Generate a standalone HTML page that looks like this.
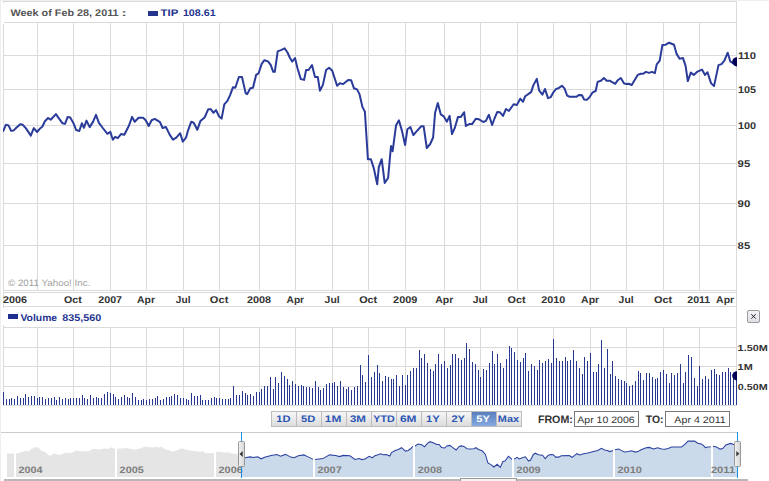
<!DOCTYPE html><html><head><meta charset="utf-8"><style>
html,body{margin:0;padding:0;background:#fff;overflow:hidden;}
svg{display:block;}
text{font-family:"Liberation Sans",sans-serif;text-rendering:geometricPrecision;}
.b{font-weight:bold;}
</style></head><body>
<svg width="769" height="481" viewBox="0 0 769 481">
<defs>
<clipPath id="pc"><rect x="3" y="22" width="734" height="268"/></clipPath>
<clipPath id="vc"><rect x="3" y="327" width="734" height="78"/></clipPath>
<linearGradient id="btn" x1="0" y1="0" x2="0" y2="1"><stop offset="0" stop-color="#f7f7f7"/><stop offset="1" stop-color="#dcdcdc"/></linearGradient>
<linearGradient id="btnsel" x1="0" y1="0" x2="0" y2="1"><stop offset="0" stop-color="#5a7fbf"/><stop offset="1" stop-color="#84a8de"/></linearGradient>
<linearGradient id="hdl" x1="0" y1="0" x2="1" y2="0"><stop offset="0" stop-color="#f4f4f4"/><stop offset="1" stop-color="#d4d4d4"/></linearGradient>
<linearGradient id="xb" x1="0" y1="0" x2="0" y2="1"><stop offset="0" stop-color="#f4f4f8"/><stop offset="1" stop-color="#dedee6"/></linearGradient>
</defs>
<rect x="0" y="0" width="769" height="481" fill="#fff"/>
<rect x="0" y="0" width="769" height="1" fill="#efefef"/>
<rect x="0" y="0" width="1" height="481" fill="#efefef"/>
<g shape-rendering="crispEdges">
<rect x="3" y="1" width="734" height="1" fill="#dadada"/>
<rect x="3" y="1" width="1" height="2" fill="#dadada"/>
<rect x="736" y="1" width="1" height="405" fill="#dadada"/>
<rect x="4" y="22" width="733" height="1" fill="#dadada"/>
<rect x="3" y="24" width="1" height="267" fill="#dadada"/>
<rect x="3" y="290" width="734" height="1" fill="#dadada"/>
<rect x="37" y="23" width="1" height="267" fill="#dadada"/>
<rect x="73" y="23" width="1" height="267" fill="#dadada"/>
<rect x="110" y="23" width="1" height="267" fill="#dadada"/>
<rect x="146" y="23" width="1" height="267" fill="#dadada"/>
<rect x="183" y="23" width="1" height="267" fill="#dadada"/>
<rect x="219" y="23" width="1" height="267" fill="#dadada"/>
<rect x="259" y="23" width="1" height="267" fill="#dadada"/>
<rect x="295" y="23" width="1" height="267" fill="#dadada"/>
<rect x="332" y="23" width="1" height="267" fill="#dadada"/>
<rect x="368" y="23" width="1" height="267" fill="#dadada"/>
<rect x="405" y="23" width="1" height="267" fill="#dadada"/>
<rect x="444" y="23" width="1" height="267" fill="#dadada"/>
<rect x="480" y="23" width="1" height="267" fill="#dadada"/>
<rect x="517" y="23" width="1" height="267" fill="#dadada"/>
<rect x="553" y="23" width="1" height="267" fill="#dadada"/>
<rect x="590" y="23" width="1" height="267" fill="#dadada"/>
<rect x="626" y="23" width="1" height="267" fill="#dadada"/>
<rect x="663" y="23" width="1" height="267" fill="#dadada"/>
<rect x="699" y="23" width="1" height="267" fill="#dadada"/>
<rect x="4" y="55" width="732" height="1" fill="#dadada"/>
<rect x="4" y="89" width="732" height="1" fill="#dadada"/>
<rect x="4" y="125" width="732" height="1" fill="#dadada"/>
<rect x="4" y="163" width="732" height="1" fill="#dadada"/>
<rect x="4" y="203" width="732" height="1" fill="#dadada"/>
<rect x="4" y="245" width="732" height="1" fill="#dadada"/>
<rect x="3" y="292" width="734" height="1" fill="#dadada"/>
<rect x="3" y="306" width="734" height="1" fill="#dadada"/>
<rect x="3" y="292" width="1" height="16" fill="#dadada"/>
<rect x="4" y="327" width="733" height="1" fill="#dadada"/>
<rect x="3" y="325" width="1" height="81" fill="#dadada"/>
<rect x="3" y="405" width="734" height="1" fill="#dadada"/>
<rect x="37" y="328" width="1" height="77" fill="#dadada"/>
<rect x="73" y="328" width="1" height="77" fill="#dadada"/>
<rect x="110" y="328" width="1" height="77" fill="#dadada"/>
<rect x="146" y="328" width="1" height="77" fill="#dadada"/>
<rect x="183" y="328" width="1" height="77" fill="#dadada"/>
<rect x="219" y="328" width="1" height="77" fill="#dadada"/>
<rect x="259" y="328" width="1" height="77" fill="#dadada"/>
<rect x="295" y="328" width="1" height="77" fill="#dadada"/>
<rect x="332" y="328" width="1" height="77" fill="#dadada"/>
<rect x="368" y="328" width="1" height="77" fill="#dadada"/>
<rect x="405" y="328" width="1" height="77" fill="#dadada"/>
<rect x="444" y="328" width="1" height="77" fill="#dadada"/>
<rect x="480" y="328" width="1" height="77" fill="#dadada"/>
<rect x="517" y="328" width="1" height="77" fill="#dadada"/>
<rect x="553" y="328" width="1" height="77" fill="#dadada"/>
<rect x="590" y="328" width="1" height="77" fill="#dadada"/>
<rect x="626" y="328" width="1" height="77" fill="#dadada"/>
<rect x="663" y="328" width="1" height="77" fill="#dadada"/>
<rect x="699" y="328" width="1" height="77" fill="#dadada"/>
<rect x="4" y="347" width="732" height="1" fill="#dadada"/>
<rect x="4" y="366" width="732" height="1" fill="#dadada"/>
<rect x="4" y="386" width="732" height="1" fill="#dadada"/>
</g>
<g clip-path="url(#pc)">
<polyline points="3,131.7 5.9,124.8 8.5,125.4 11.1,130.7 13.7,130.4 16.3,127.8 20.2,124.2 22.8,124.8 26,128.4 30.8,135.6 33.8,128.1 37.1,132 39.7,128.8 42.3,126.8 44.9,121.3 48.1,118 50.7,119.7 55.9,114.1 60.5,120.6 62.4,123.2 65,123.9 67.6,117.1 70.2,117.6 73.5,123.2 76.1,130 79.3,131 81.9,123.2 83.9,127.8 86.5,120.6 89.7,127.1 93,121.9 96,114.8 98.9,122.8 102.8,128 107.4,133.8 110.3,131.9 112.9,139.7 115.2,136.8 117.8,138.1 121,134.1 124.3,134.8 128.8,126 132.1,116.9 134.7,121.8 138.6,117.8 143.1,117.8 145.7,120.2 148.7,126 151.6,120.2 154.8,118.9 160,122.1 162.6,128 165.9,127 169.8,134.9 173,139.7 176.3,137.7 180.2,133.2 182.8,141.6 186,137.7 188,130.6 191.2,121.8 193.7,122.7 197.3,129.8 200.4,121.1 204.6,117.5 208.3,109.2 210.8,109.2 213.5,112.8 216,110.1 219.1,116.5 221.6,118.6 224.3,104.4 227.4,100.9 230.1,95.1 233,87.2 235.3,87.8 238.9,77 242,77 245.7,93.4 247.2,94.1 250.3,88.2 253,87.8 256.1,74.9 258.6,73.3 261.7,63.9 264.4,60.2 268,61.4 270.7,64.9 273.2,71.8 274.8,71.8 277.7,51.4 281.5,49.8 284.6,48.3 287.5,52.5 290,58 292.2,61.6 295,58 297.5,68.3 300.8,79.1 304.1,79.9 306.1,70 308.6,70 312,65 315,76.9 317.8,76.9 319.9,90.7 322.9,84.9 326.1,70 329.1,67.8 332.1,70.4 337.1,85.8 339.9,83.3 343.2,84.1 348.2,79.9 351.2,80.3 354,88.3 357,89.4 359.5,94.1 360.6,99 362.4,106.9 364.9,111.8 367.9,159.2 370.9,159.2 373.8,168.1 377.2,184.3 378.8,167.1 381.7,159.2 384.7,182.9 388.1,178 391,146 392.6,151.3 396,125.6 398.9,120.3 401.9,130.6 405.1,145 407.4,129.2 410.4,127 413.4,135.1 416.3,131.6 421.3,126.2 423.6,126.2 426.8,148 430.2,144 433.1,137.5 435.1,112.8 437.8,103.1 440.8,114.4 443.7,116.3 446.9,121.7 449.6,115.9 452,134 454.7,128.2 458,116.9 460.9,116.9 464.1,112.2 465.9,126 469.2,124.1 472.1,124.1 475.8,118.8 478.7,119.2 483.3,122 485.9,120.9 488.9,114.8 492.1,125 494.7,118 497.3,111.9 499.8,112.2 503,115.9 506,109 508.9,111 513.6,104.2 517,104.9 520.2,98.7 523.1,101.7 525.2,96.2 531.1,92.1 533.3,85.4 536.8,78.9 539.1,90.3 542.4,94.6 545,89 548,98.1 550.8,97.1 553.4,92.3 556,89 558.6,88.1 561.9,85.8 564.5,88.4 567.1,95.5 569.7,96.8 576.2,96.8 579.2,94.9 582,95.3 584,99.4 587.2,99.7 589.8,96.8 592.7,92.3 595.7,91 597.6,81.9 600.9,80.8 603.9,78 606.7,80.8 610,80.8 615.2,83.8 617.8,80.2 620.8,78 623.9,83.2 626.2,84.1 628.7,83.8 631.7,85 634.7,80.1 637.7,74.9 640.7,73.8 643.2,73.8 645.9,71.9 648.9,72.9 651.9,71.9 654.9,73.1 656.7,64.4 659.7,60.7 662.4,45 665.7,44.7 669.1,42.7 674,44.7 676.6,53.9 679.6,58.7 683,58.1 685.6,65.9 687.8,81.1 690.8,72.6 693.8,74.9 697.5,71.6 702,69.6 705,74.9 707.5,72.2 711,83.1 714,86.1 718.5,65.1 721.5,64.1 724.4,60.7 727.7,52.7 730.4,61.7 734.2,63.6 737,63.6" fill="none" stroke="#2a3b9a" stroke-width="2" stroke-linejoin="round"/>
<circle cx="736.8" cy="61.8" r="4.6" fill="#000055"/>
</g>
<g clip-path="url(#vc)" shape-rendering="crispEdges">
<rect x="3" y="392" width="1" height="13" fill="#28388f"/>
<rect x="6" y="399" width="1" height="6" fill="#28388f"/>
<rect x="9" y="399" width="1" height="6" fill="#28388f"/>
<rect x="11" y="398" width="1" height="7" fill="#28388f"/>
<rect x="14" y="399" width="1" height="6" fill="#28388f"/>
<rect x="17" y="396" width="1" height="9" fill="#28388f"/>
<rect x="20" y="398" width="1" height="7" fill="#28388f"/>
<rect x="23" y="398" width="1" height="7" fill="#28388f"/>
<rect x="25" y="394" width="1" height="11" fill="#28388f"/>
<rect x="28" y="397" width="1" height="8" fill="#28388f"/>
<rect x="31" y="396" width="1" height="9" fill="#28388f"/>
<rect x="34" y="396" width="1" height="9" fill="#28388f"/>
<rect x="37" y="398" width="1" height="7" fill="#28388f"/>
<rect x="39" y="397" width="1" height="8" fill="#28388f"/>
<rect x="42" y="397" width="1" height="8" fill="#28388f"/>
<rect x="45" y="399" width="1" height="6" fill="#28388f"/>
<rect x="48" y="398" width="1" height="7" fill="#28388f"/>
<rect x="51" y="398" width="1" height="7" fill="#28388f"/>
<rect x="54" y="397" width="1" height="8" fill="#28388f"/>
<rect x="56" y="400" width="1" height="5" fill="#28388f"/>
<rect x="59" y="397" width="1" height="8" fill="#28388f"/>
<rect x="62" y="399" width="1" height="6" fill="#28388f"/>
<rect x="65" y="398" width="1" height="7" fill="#28388f"/>
<rect x="68" y="399" width="1" height="6" fill="#28388f"/>
<rect x="70" y="398" width="1" height="7" fill="#28388f"/>
<rect x="73" y="398" width="1" height="7" fill="#28388f"/>
<rect x="76" y="398" width="1" height="7" fill="#28388f"/>
<rect x="79" y="398" width="1" height="7" fill="#28388f"/>
<rect x="82" y="395" width="1" height="10" fill="#28388f"/>
<rect x="84" y="398" width="1" height="7" fill="#28388f"/>
<rect x="87" y="399" width="1" height="6" fill="#28388f"/>
<rect x="90" y="395" width="1" height="10" fill="#28388f"/>
<rect x="93" y="398" width="1" height="7" fill="#28388f"/>
<rect x="96" y="397" width="1" height="8" fill="#28388f"/>
<rect x="98" y="398" width="1" height="7" fill="#28388f"/>
<rect x="101" y="398" width="1" height="7" fill="#28388f"/>
<rect x="104" y="394" width="1" height="11" fill="#28388f"/>
<rect x="107" y="392" width="1" height="13" fill="#28388f"/>
<rect x="110" y="393" width="1" height="12" fill="#28388f"/>
<rect x="113" y="394" width="1" height="11" fill="#28388f"/>
<rect x="115" y="397" width="1" height="8" fill="#28388f"/>
<rect x="118" y="399" width="1" height="6" fill="#28388f"/>
<rect x="121" y="397" width="1" height="8" fill="#28388f"/>
<rect x="124" y="395" width="1" height="10" fill="#28388f"/>
<rect x="127" y="397" width="1" height="8" fill="#28388f"/>
<rect x="129" y="398" width="1" height="7" fill="#28388f"/>
<rect x="132" y="393" width="1" height="12" fill="#28388f"/>
<rect x="135" y="397" width="1" height="8" fill="#28388f"/>
<rect x="138" y="400" width="1" height="5" fill="#28388f"/>
<rect x="141" y="400" width="1" height="5" fill="#28388f"/>
<rect x="143" y="399" width="1" height="6" fill="#28388f"/>
<rect x="146" y="400" width="1" height="5" fill="#28388f"/>
<rect x="149" y="399" width="1" height="6" fill="#28388f"/>
<rect x="152" y="399" width="1" height="6" fill="#28388f"/>
<rect x="155" y="398" width="1" height="7" fill="#28388f"/>
<rect x="157" y="396" width="1" height="9" fill="#28388f"/>
<rect x="160" y="400" width="1" height="5" fill="#28388f"/>
<rect x="163" y="399" width="1" height="6" fill="#28388f"/>
<rect x="166" y="397" width="1" height="8" fill="#28388f"/>
<rect x="169" y="397" width="1" height="8" fill="#28388f"/>
<rect x="171" y="396" width="1" height="9" fill="#28388f"/>
<rect x="174" y="394" width="1" height="11" fill="#28388f"/>
<rect x="177" y="395" width="1" height="10" fill="#28388f"/>
<rect x="180" y="398" width="1" height="7" fill="#28388f"/>
<rect x="183" y="398" width="1" height="7" fill="#28388f"/>
<rect x="186" y="399" width="1" height="6" fill="#28388f"/>
<rect x="188" y="400" width="1" height="5" fill="#28388f"/>
<rect x="191" y="393" width="1" height="12" fill="#28388f"/>
<rect x="194" y="396" width="1" height="9" fill="#28388f"/>
<rect x="197" y="396" width="1" height="9" fill="#28388f"/>
<rect x="200" y="395" width="1" height="10" fill="#28388f"/>
<rect x="202" y="400" width="1" height="5" fill="#28388f"/>
<rect x="205" y="400" width="1" height="5" fill="#28388f"/>
<rect x="208" y="400" width="1" height="5" fill="#28388f"/>
<rect x="211" y="398" width="1" height="7" fill="#28388f"/>
<rect x="214" y="397" width="1" height="8" fill="#28388f"/>
<rect x="216" y="398" width="1" height="7" fill="#28388f"/>
<rect x="219" y="398" width="1" height="7" fill="#28388f"/>
<rect x="222" y="399" width="1" height="6" fill="#28388f"/>
<rect x="225" y="399" width="1" height="6" fill="#28388f"/>
<rect x="228" y="399" width="1" height="6" fill="#28388f"/>
<rect x="230" y="398" width="1" height="7" fill="#28388f"/>
<rect x="233" y="386" width="1" height="19" fill="#28388f"/>
<rect x="236" y="395" width="1" height="10" fill="#28388f"/>
<rect x="239" y="395" width="1" height="10" fill="#28388f"/>
<rect x="242" y="391" width="1" height="14" fill="#28388f"/>
<rect x="245" y="393" width="1" height="12" fill="#28388f"/>
<rect x="247" y="395" width="1" height="10" fill="#28388f"/>
<rect x="250" y="394" width="1" height="11" fill="#28388f"/>
<rect x="253" y="396" width="1" height="9" fill="#28388f"/>
<rect x="256" y="392" width="1" height="13" fill="#28388f"/>
<rect x="259" y="392" width="1" height="13" fill="#28388f"/>
<rect x="261" y="389" width="1" height="16" fill="#28388f"/>
<rect x="264" y="386" width="1" height="19" fill="#28388f"/>
<rect x="267" y="386" width="1" height="19" fill="#28388f"/>
<rect x="270" y="377" width="1" height="28" fill="#28388f"/>
<rect x="273" y="389" width="1" height="16" fill="#28388f"/>
<rect x="275" y="377" width="1" height="28" fill="#28388f"/>
<rect x="278" y="383" width="1" height="22" fill="#28388f"/>
<rect x="281" y="372" width="1" height="33" fill="#28388f"/>
<rect x="284" y="376" width="1" height="29" fill="#28388f"/>
<rect x="287" y="379" width="1" height="26" fill="#28388f"/>
<rect x="289" y="385" width="1" height="20" fill="#28388f"/>
<rect x="292" y="381" width="1" height="24" fill="#28388f"/>
<rect x="295" y="384" width="1" height="21" fill="#28388f"/>
<rect x="298" y="386" width="1" height="19" fill="#28388f"/>
<rect x="301" y="385" width="1" height="20" fill="#28388f"/>
<rect x="303" y="386" width="1" height="19" fill="#28388f"/>
<rect x="306" y="387" width="1" height="18" fill="#28388f"/>
<rect x="309" y="387" width="1" height="18" fill="#28388f"/>
<rect x="312" y="388" width="1" height="17" fill="#28388f"/>
<rect x="315" y="381" width="1" height="24" fill="#28388f"/>
<rect x="318" y="387" width="1" height="18" fill="#28388f"/>
<rect x="320" y="390" width="1" height="15" fill="#28388f"/>
<rect x="323" y="388" width="1" height="17" fill="#28388f"/>
<rect x="326" y="384" width="1" height="21" fill="#28388f"/>
<rect x="329" y="383" width="1" height="22" fill="#28388f"/>
<rect x="332" y="383" width="1" height="22" fill="#28388f"/>
<rect x="334" y="382" width="1" height="23" fill="#28388f"/>
<rect x="337" y="386" width="1" height="19" fill="#28388f"/>
<rect x="340" y="381" width="1" height="24" fill="#28388f"/>
<rect x="343" y="387" width="1" height="18" fill="#28388f"/>
<rect x="346" y="389" width="1" height="16" fill="#28388f"/>
<rect x="348" y="387" width="1" height="18" fill="#28388f"/>
<rect x="351" y="390" width="1" height="15" fill="#28388f"/>
<rect x="354" y="387" width="1" height="18" fill="#28388f"/>
<rect x="357" y="386" width="1" height="19" fill="#28388f"/>
<rect x="360" y="365" width="1" height="40" fill="#28388f"/>
<rect x="362" y="375" width="1" height="30" fill="#28388f"/>
<rect x="365" y="382" width="1" height="23" fill="#28388f"/>
<rect x="368" y="355" width="1" height="50" fill="#28388f"/>
<rect x="371" y="377" width="1" height="28" fill="#28388f"/>
<rect x="374" y="372" width="1" height="33" fill="#28388f"/>
<rect x="377" y="365" width="1" height="40" fill="#28388f"/>
<rect x="379" y="373" width="1" height="32" fill="#28388f"/>
<rect x="382" y="381" width="1" height="24" fill="#28388f"/>
<rect x="385" y="376" width="1" height="29" fill="#28388f"/>
<rect x="388" y="377" width="1" height="28" fill="#28388f"/>
<rect x="391" y="379" width="1" height="26" fill="#28388f"/>
<rect x="393" y="379" width="1" height="26" fill="#28388f"/>
<rect x="396" y="375" width="1" height="30" fill="#28388f"/>
<rect x="399" y="386" width="1" height="19" fill="#28388f"/>
<rect x="402" y="375" width="1" height="30" fill="#28388f"/>
<rect x="405" y="385" width="1" height="20" fill="#28388f"/>
<rect x="407" y="375" width="1" height="30" fill="#28388f"/>
<rect x="410" y="371" width="1" height="34" fill="#28388f"/>
<rect x="413" y="368" width="1" height="37" fill="#28388f"/>
<rect x="416" y="368" width="1" height="37" fill="#28388f"/>
<rect x="419" y="350" width="1" height="55" fill="#28388f"/>
<rect x="421" y="358" width="1" height="47" fill="#28388f"/>
<rect x="424" y="354" width="1" height="51" fill="#28388f"/>
<rect x="427" y="363" width="1" height="42" fill="#28388f"/>
<rect x="430" y="369" width="1" height="36" fill="#28388f"/>
<rect x="433" y="371" width="1" height="34" fill="#28388f"/>
<rect x="435" y="364" width="1" height="41" fill="#28388f"/>
<rect x="438" y="354" width="1" height="51" fill="#28388f"/>
<rect x="441" y="364" width="1" height="41" fill="#28388f"/>
<rect x="444" y="361" width="1" height="44" fill="#28388f"/>
<rect x="447" y="368" width="1" height="37" fill="#28388f"/>
<rect x="450" y="365" width="1" height="40" fill="#28388f"/>
<rect x="452" y="354" width="1" height="51" fill="#28388f"/>
<rect x="455" y="354" width="1" height="51" fill="#28388f"/>
<rect x="458" y="358" width="1" height="47" fill="#28388f"/>
<rect x="461" y="360" width="1" height="45" fill="#28388f"/>
<rect x="464" y="358" width="1" height="47" fill="#28388f"/>
<rect x="466" y="343" width="1" height="62" fill="#28388f"/>
<rect x="469" y="349" width="1" height="56" fill="#28388f"/>
<rect x="472" y="362" width="1" height="43" fill="#28388f"/>
<rect x="475" y="364" width="1" height="41" fill="#28388f"/>
<rect x="478" y="370" width="1" height="35" fill="#28388f"/>
<rect x="480" y="377" width="1" height="28" fill="#28388f"/>
<rect x="483" y="369" width="1" height="36" fill="#28388f"/>
<rect x="486" y="370" width="1" height="35" fill="#28388f"/>
<rect x="489" y="363" width="1" height="42" fill="#28388f"/>
<rect x="492" y="351" width="1" height="54" fill="#28388f"/>
<rect x="494" y="364" width="1" height="41" fill="#28388f"/>
<rect x="497" y="354" width="1" height="51" fill="#28388f"/>
<rect x="500" y="363" width="1" height="42" fill="#28388f"/>
<rect x="503" y="368" width="1" height="37" fill="#28388f"/>
<rect x="506" y="359" width="1" height="46" fill="#28388f"/>
<rect x="509" y="346" width="1" height="59" fill="#28388f"/>
<rect x="511" y="348" width="1" height="57" fill="#28388f"/>
<rect x="514" y="352" width="1" height="53" fill="#28388f"/>
<rect x="517" y="360" width="1" height="45" fill="#28388f"/>
<rect x="520" y="362" width="1" height="43" fill="#28388f"/>
<rect x="523" y="358" width="1" height="47" fill="#28388f"/>
<rect x="525" y="353" width="1" height="52" fill="#28388f"/>
<rect x="528" y="371" width="1" height="34" fill="#28388f"/>
<rect x="531" y="364" width="1" height="41" fill="#28388f"/>
<rect x="534" y="366" width="1" height="39" fill="#28388f"/>
<rect x="537" y="370" width="1" height="35" fill="#28388f"/>
<rect x="539" y="360" width="1" height="45" fill="#28388f"/>
<rect x="542" y="363" width="1" height="42" fill="#28388f"/>
<rect x="545" y="361" width="1" height="44" fill="#28388f"/>
<rect x="548" y="359" width="1" height="46" fill="#28388f"/>
<rect x="551" y="363" width="1" height="42" fill="#28388f"/>
<rect x="553" y="339" width="1" height="66" fill="#28388f"/>
<rect x="556" y="358" width="1" height="47" fill="#28388f"/>
<rect x="559" y="361" width="1" height="44" fill="#28388f"/>
<rect x="562" y="361" width="1" height="44" fill="#28388f"/>
<rect x="565" y="357" width="1" height="48" fill="#28388f"/>
<rect x="567" y="361" width="1" height="44" fill="#28388f"/>
<rect x="570" y="360" width="1" height="45" fill="#28388f"/>
<rect x="573" y="350" width="1" height="55" fill="#28388f"/>
<rect x="576" y="361" width="1" height="44" fill="#28388f"/>
<rect x="579" y="368" width="1" height="37" fill="#28388f"/>
<rect x="582" y="374" width="1" height="31" fill="#28388f"/>
<rect x="584" y="357" width="1" height="48" fill="#28388f"/>
<rect x="587" y="361" width="1" height="44" fill="#28388f"/>
<rect x="590" y="353" width="1" height="52" fill="#28388f"/>
<rect x="593" y="372" width="1" height="33" fill="#28388f"/>
<rect x="596" y="372" width="1" height="33" fill="#28388f"/>
<rect x="598" y="364" width="1" height="41" fill="#28388f"/>
<rect x="601" y="340" width="1" height="65" fill="#28388f"/>
<rect x="604" y="368" width="1" height="37" fill="#28388f"/>
<rect x="607" y="349" width="1" height="56" fill="#28388f"/>
<rect x="610" y="374" width="1" height="31" fill="#28388f"/>
<rect x="612" y="361" width="1" height="44" fill="#28388f"/>
<rect x="615" y="376" width="1" height="29" fill="#28388f"/>
<rect x="618" y="379" width="1" height="26" fill="#28388f"/>
<rect x="621" y="380" width="1" height="25" fill="#28388f"/>
<rect x="624" y="381" width="1" height="24" fill="#28388f"/>
<rect x="626" y="383" width="1" height="22" fill="#28388f"/>
<rect x="629" y="386" width="1" height="19" fill="#28388f"/>
<rect x="632" y="385" width="1" height="20" fill="#28388f"/>
<rect x="635" y="381" width="1" height="24" fill="#28388f"/>
<rect x="638" y="371" width="1" height="34" fill="#28388f"/>
<rect x="640" y="373" width="1" height="32" fill="#28388f"/>
<rect x="643" y="380" width="1" height="25" fill="#28388f"/>
<rect x="646" y="373" width="1" height="32" fill="#28388f"/>
<rect x="649" y="373" width="1" height="32" fill="#28388f"/>
<rect x="652" y="377" width="1" height="28" fill="#28388f"/>
<rect x="655" y="379" width="1" height="26" fill="#28388f"/>
<rect x="657" y="378" width="1" height="27" fill="#28388f"/>
<rect x="660" y="372" width="1" height="33" fill="#28388f"/>
<rect x="663" y="370" width="1" height="35" fill="#28388f"/>
<rect x="666" y="374" width="1" height="31" fill="#28388f"/>
<rect x="669" y="383" width="1" height="22" fill="#28388f"/>
<rect x="671" y="373" width="1" height="32" fill="#28388f"/>
<rect x="674" y="375" width="1" height="30" fill="#28388f"/>
<rect x="677" y="373" width="1" height="32" fill="#28388f"/>
<rect x="680" y="364" width="1" height="41" fill="#28388f"/>
<rect x="683" y="383" width="1" height="22" fill="#28388f"/>
<rect x="685" y="372" width="1" height="33" fill="#28388f"/>
<rect x="688" y="355" width="1" height="50" fill="#28388f"/>
<rect x="691" y="357" width="1" height="48" fill="#28388f"/>
<rect x="694" y="378" width="1" height="27" fill="#28388f"/>
<rect x="697" y="386" width="1" height="19" fill="#28388f"/>
<rect x="699" y="366" width="1" height="39" fill="#28388f"/>
<rect x="702" y="379" width="1" height="26" fill="#28388f"/>
<rect x="705" y="376" width="1" height="29" fill="#28388f"/>
<rect x="708" y="379" width="1" height="26" fill="#28388f"/>
<rect x="711" y="370" width="1" height="35" fill="#28388f"/>
<rect x="714" y="369" width="1" height="36" fill="#28388f"/>
<rect x="716" y="374" width="1" height="31" fill="#28388f"/>
<rect x="719" y="375" width="1" height="30" fill="#28388f"/>
<rect x="722" y="372" width="1" height="33" fill="#28388f"/>
<rect x="725" y="372" width="1" height="33" fill="#28388f"/>
<rect x="728" y="368" width="1" height="37" fill="#28388f"/>
<rect x="730" y="372" width="1" height="33" fill="#28388f"/>
<rect x="733" y="374" width="1" height="31" fill="#28388f"/>
<rect x="736" y="376" width="1" height="29" fill="#28388f"/>
</g>
<g clip-path="url(#vc)"><circle cx="736.8" cy="375.8" r="4.6" fill="#000055"/></g>
<text class="b" x="10.49" y="16" font-size="9.6" fill="#555" textLength="108.11" lengthAdjust="spacingAndGlyphs">Week of Feb 28, 2011</text>
<text class="b" x="121.16" y="16" font-size="9.6" fill="#555" textLength="5.68" lengthAdjust="spacingAndGlyphs">:</text>
<rect x="148" y="11" width="10" height="5" fill="#25358f"/>
<text class="b" x="160.57" y="16" font-size="9.6" fill="#25348f" textLength="17.72" lengthAdjust="spacingAndGlyphs">TIP</text>
<text class="b" x="182.93" y="16" font-size="9.6" fill="#25348f" textLength="32.67" lengthAdjust="spacingAndGlyphs">108.61</text>
<text class="b" x="737.92" y="59" font-size="9.8" fill="#333" textLength="18.13" lengthAdjust="spacingAndGlyphs">110</text>
<text class="b" x="737.92" y="93" font-size="9.8" fill="#333" textLength="17.98" lengthAdjust="spacingAndGlyphs">105</text>
<text class="b" x="737.92" y="129" font-size="9.8" fill="#333" textLength="18.13" lengthAdjust="spacingAndGlyphs">100</text>
<text class="b" x="737.61" y="167" font-size="9.8" fill="#333" textLength="12.61" lengthAdjust="spacingAndGlyphs">95</text>
<text class="b" x="737.60" y="207" font-size="9.8" fill="#333" textLength="12.77" lengthAdjust="spacingAndGlyphs">90</text>
<text class="b" x="737.64" y="249" font-size="9.8" fill="#333" textLength="12.57" lengthAdjust="spacingAndGlyphs">85</text>
<text class="b" x="3.13" y="303" font-size="9.8" fill="#333" textLength="23.96" lengthAdjust="spacingAndGlyphs">2006</text>
<text class="b" x="63.96" y="303" font-size="9.8" fill="#333" textLength="17.77" lengthAdjust="spacingAndGlyphs">Oct</text>
<text class="b" x="98.23" y="303" font-size="9.8" fill="#333" textLength="23.84" lengthAdjust="spacingAndGlyphs">2007</text>
<text class="b" x="137.04" y="303" font-size="9.8" fill="#333" textLength="17.92" lengthAdjust="spacingAndGlyphs">Apr</text>
<text class="b" x="175.85" y="303" font-size="9.8" fill="#333" textLength="14.67" lengthAdjust="spacingAndGlyphs">Jul</text>
<text class="b" x="209.85" y="303" font-size="9.8" fill="#333" textLength="18.49" lengthAdjust="spacingAndGlyphs">Oct</text>
<text class="b" x="247.02" y="303" font-size="9.8" fill="#333" textLength="24.11" lengthAdjust="spacingAndGlyphs">2008</text>
<text class="b" x="286.55" y="303" font-size="9.8" fill="#333" textLength="17.51" lengthAdjust="spacingAndGlyphs">Apr</text>
<text class="b" x="324.64" y="303" font-size="9.8" fill="#333" textLength="14.99" lengthAdjust="spacingAndGlyphs">Jul</text>
<text class="b" x="359.16" y="303" font-size="9.8" fill="#333" textLength="18.08" lengthAdjust="spacingAndGlyphs">Oct</text>
<text class="b" x="393.12" y="303" font-size="9.8" fill="#333" textLength="24.18" lengthAdjust="spacingAndGlyphs">2009</text>
<text class="b" x="435.24" y="303" font-size="9.8" fill="#333" textLength="18.02" lengthAdjust="spacingAndGlyphs">Apr</text>
<text class="b" x="472.74" y="303" font-size="9.8" fill="#333" textLength="14.99" lengthAdjust="spacingAndGlyphs">Jul</text>
<text class="b" x="507.56" y="303" font-size="9.8" fill="#333" textLength="18.08" lengthAdjust="spacingAndGlyphs">Oct</text>
<text class="b" x="541.23" y="303" font-size="9.8" fill="#333" textLength="23.91" lengthAdjust="spacingAndGlyphs">2010</text>
<text class="b" x="581.14" y="303" font-size="9.8" fill="#333" textLength="18.02" lengthAdjust="spacingAndGlyphs">Apr</text>
<text class="b" x="618.64" y="303" font-size="9.8" fill="#333" textLength="14.99" lengthAdjust="spacingAndGlyphs">Jul</text>
<text class="b" x="654.05" y="303" font-size="9.8" fill="#333" textLength="18.18" lengthAdjust="spacingAndGlyphs">Oct</text>
<text class="b" x="687.34" y="303" font-size="9.8" fill="#333" textLength="22.84" lengthAdjust="spacingAndGlyphs">2011</text>
<text class="b" x="716.14" y="303" font-size="9.8" fill="#333" textLength="18.02" lengthAdjust="spacingAndGlyphs">Apr</text>
<text x="7.95" y="286" font-size="9.3" fill="#a0a0a0" textLength="82.42" lengthAdjust="spacingAndGlyphs">© 2011 Yahoo! Inc.</text>
<rect x="8" y="314" width="10" height="5" fill="#1f2f8f"/>
<text class="b" x="20.43" y="321" font-size="9.8" fill="#25348f" textLength="36.72" lengthAdjust="spacingAndGlyphs">Volume</text>
<text class="b" x="62.16" y="321" font-size="9.8" fill="#25348f" textLength="38.98" lengthAdjust="spacingAndGlyphs">835,560</text>
<rect x="747.5" y="310.5" width="12" height="12" rx="1.5" fill="url(#xb)" stroke="#9a9a9a"/>
<path d="M751.3 314.2 L755.7 318.6 M755.7 314.2 L751.3 318.6" stroke="#222" stroke-width="1"/>
<text class="b" x="737.62" y="351" font-size="8.8" fill="#333" textLength="30.11" lengthAdjust="spacingAndGlyphs">1.50M</text>
<text class="b" x="737.61" y="370" font-size="8.8" fill="#333" textLength="15.11" lengthAdjust="spacingAndGlyphs">1M</text>
<text class="b" x="737.88" y="390" font-size="8.8" fill="#333" textLength="29.84" lengthAdjust="spacingAndGlyphs">0.50M</text>
<rect x="271" y="411" width="251" height="16" fill="#bdbdbd"/>
<rect x="272" y="412" width="24" height="14" fill="url(#btn)"/>
<text class="b" x="276.30" y="422" font-size="9.5" fill="#2a55b5" textLength="14.16" lengthAdjust="spacingAndGlyphs">1D</text>
<rect x="297" y="412" width="24" height="14" fill="url(#btn)"/>
<text class="b" x="301.06" y="422" font-size="9.5" fill="#2a55b5" textLength="14.21" lengthAdjust="spacingAndGlyphs">5D</text>
<rect x="322" y="412" width="24" height="14" fill="url(#btn)"/>
<text class="b" x="324.85" y="422" font-size="9.5" fill="#2a55b5" textLength="16.44" lengthAdjust="spacingAndGlyphs">1M</text>
<rect x="347" y="412" width="24" height="14" fill="url(#btn)"/>
<text class="b" x="349.94" y="422" font-size="9.5" fill="#2a55b5" textLength="16.04" lengthAdjust="spacingAndGlyphs">3M</text>
<rect x="372" y="412" width="24" height="14" fill="url(#btn)"/>
<text class="b" x="373.32" y="422" font-size="9.5" fill="#2a55b5" textLength="21.33" lengthAdjust="spacingAndGlyphs">YTD</text>
<rect x="397" y="412" width="24" height="14" fill="url(#btn)"/>
<text class="b" x="399.96" y="422" font-size="9.5" fill="#2a55b5" textLength="16.53" lengthAdjust="spacingAndGlyphs">6M</text>
<rect x="422" y="412" width="24" height="14" fill="url(#btn)"/>
<text class="b" x="426.09" y="422" font-size="9.5" fill="#2a55b5" textLength="13.79" lengthAdjust="spacingAndGlyphs">1Y</text>
<rect x="447" y="412" width="24" height="14" fill="url(#btn)"/>
<text class="b" x="451.42" y="422" font-size="9.5" fill="#2a55b5" textLength="13.56" lengthAdjust="spacingAndGlyphs">2Y</text>
<rect x="472" y="412" width="24" height="14" fill="url(#btnsel)"/>
<text class="b" x="476.36" y="422" font-size="9.5" fill="#fff" textLength="13.52" lengthAdjust="spacingAndGlyphs">5Y</text>
<rect x="497" y="412" width="24" height="14" fill="url(#btn)"/>
<text class="b" x="497.87" y="422" font-size="9.5" fill="#2a55b5" textLength="21.11" lengthAdjust="spacingAndGlyphs">Max</text>
<text class="b" x="537.89" y="422.7" font-size="10.8" fill="#333" textLength="34.94" lengthAdjust="spacingAndGlyphs">FROM:</text>
<rect x="574.5" y="411.5" width="64" height="15" fill="#fff" stroke="#777"/>
<text x="577.28" y="422.5" font-size="9.4" fill="#333" textLength="57.38" lengthAdjust="spacingAndGlyphs">Apr 10 2006</text>
<text class="b" x="645.78" y="422.7" font-size="10.8" fill="#333" textLength="17.81" lengthAdjust="spacingAndGlyphs">TO:</text>
<rect x="665.5" y="411.5" width="64" height="15" fill="#fff" stroke="#777"/>
<text x="674.38" y="422.5" font-size="9.4" fill="#333" textLength="51.33" lengthAdjust="spacingAndGlyphs">Apr 4 2011</text>
<g shape-rendering="crispEdges">
<rect x="1" y="432" width="737" height="1" fill="#cccccc"/>
</g>
<path d="M7,477 L7,453.6 L14,453.6 L16.1,453.4 L20.8,452.6 L24.4,451.3 L26.8,450.7 L28.6,451.3 L31.2,448.9 L34.3,447.6 L38,447.2 L40.1,449.4 L42.7,451.3 L45.3,452 L47.9,454.4 L50.5,455.7 L53.6,453.4 L56.2,454.1 L58.8,455.2 L62.4,454.1 L65.5,453.1 L69.2,452.8 L71.8,453.1 L74.9,451 L77,450.5 L80,451.3 L84.2,451.4 L89.4,451.1 L91.5,449.5 L94.6,448.7 L98.8,449.5 L102.4,449 L105,448.5 L108.2,449 L111.1,447.2 L114.4,448.7 L117,448.7 L121.7,448.5 L125.9,448 L129,448.7 L132.1,449 L134.7,450 L137.8,449 L141.5,448 L145.1,446.4 L148.7,447.2 L152.9,447.4 L155,446.8 L158.5,447.5 L162,447.1 L165.5,449.5 L169,450.3 L172.6,451.8 L176.1,450.6 L179,449.5 L181.9,448.3 L185.4,449.5 L190.1,450.6 L194.8,451.2 L199.5,451.8 L203,451.2 L205.3,453 L208.8,453.3 L213.5,453 L216.1,451.8 L220.5,451.8 L224.1,452.6 L227.6,452.2 L232.2,453.6 L236.9,454.1 L242,456.5 L242,477 Z" fill="#e5e5e5"/>
<path d="M242,477 L242,457.5 L245.1,457.8 L250.1,456.9 L253.5,457.4 L257.8,456.9 L261.1,458.8 L265.4,457.1 L271.3,455.4 L276.9,454.6 L280.6,456.3 L285.6,454.4 L290.7,457.1 L294.1,457.8 L298.3,455.8 L303.9,454.9 L307.6,456.6 L312.7,459.1 L315.2,459.5 L322.8,458.6 L329.6,454.9 L335.5,455.4 L339.7,456.6 L343.1,455.4 L349.9,455.8 L355,459.5 L359.2,458.6 L361.7,459.6 L365,458.9 L369.2,456.3 L372.3,457.8 L374.9,455.8 L378,454.7 L380.6,453.7 L383.2,454.7 L386.3,454.5 L389.8,456 L391.5,452.6 L395.2,450.6 L398.3,449.5 L401.6,447.7 L405.4,451.1 L408.2,450.4 L410.8,448.5 L412.9,446.4 L415.1,445.9 L418.1,444.1 L421.7,444.8 L424.5,446.9 L427.4,443.3 L430,441.7 L433.1,442.8 L436.8,444.5 L439.1,444.5 L441.5,447.4 L444.7,448 L446.8,445.9 L449.9,445.4 L452.5,447.4 L456.1,450 L459.2,446.4 L461.3,445.9 L463.9,446.4 L467,448.7 L470.2,449 L473.8,448.7 L475.9,447.7 L478.5,449.5 L482.1,450.8 L485.3,454.2 L487.9,463 L491,464.6 L493.9,467 L497.2,464.3 L500.3,467.4 L502.9,461.5 L505,461 L508.5,456.3 L512.3,459.7 L514.4,459.1 L517,457.3 L519.2,458.9 L522.3,457.8 L525.4,456.8 L528.5,461 L530.6,460.1 L533.2,454.7 L535.3,453.2 L538.4,454.7 L542.6,455.2 L545.2,458.7 L548.3,455.2 L550.9,454.5 L553.3,454.7 L555.6,457.1 L558.7,457.1 L561.3,455.8 L569.1,455.6 L572.2,457.3 L576.9,453.7 L579.5,454.9 L583.7,453.7 L587.8,452.9 L593.6,451.4 L597.8,450.4 L601.4,448.3 L604.6,450 L607.2,450.4 L609.8,451.6 L612.4,450.8 L615,449.8 L618.6,449 L621.2,450.4 L624.3,451.9 L628.5,451.4 L631.6,450.8 L635.3,452.1 L637.9,451.6 L641,449.7 L646.2,447.7 L649.3,447.4 L653.5,449 L657.6,447.7 L661.8,449 L665,449.2 L668.1,448.4 L671.8,447 L681.6,447 L684.8,444.4 L688.1,441.1 L694.6,441.1 L697.8,443.2 L701.4,444.1 L703.3,445.4 L705.4,447.7 L707.7,447 L710.8,446.7 L713.1,446.3 L716.5,447 L720.1,449.1 L722.7,448.6 L725.9,444.9 L730.5,443.4 L733.7,444.6 L737,445 L737,477 Z" fill="#cbdaea"/>
<polyline points="242,457.5 245.1,457.8 250.1,456.9 253.5,457.4 257.8,456.9 261.1,458.8 265.4,457.1 271.3,455.4 276.9,454.6 280.6,456.3 285.6,454.4 290.7,457.1 294.1,457.8 298.3,455.8 303.9,454.9 307.6,456.6 312.7,459.1 315.2,459.5 322.8,458.6 329.6,454.9 335.5,455.4 339.7,456.6 343.1,455.4 349.9,455.8 355,459.5 359.2,458.6 361.7,459.6 365,458.9 369.2,456.3 372.3,457.8 374.9,455.8 378,454.7 380.6,453.7 383.2,454.7 386.3,454.5 389.8,456 391.5,452.6 395.2,450.6 398.3,449.5 401.6,447.7 405.4,451.1 408.2,450.4 410.8,448.5 412.9,446.4 415.1,445.9 418.1,444.1 421.7,444.8 424.5,446.9 427.4,443.3 430,441.7 433.1,442.8 436.8,444.5 439.1,444.5 441.5,447.4 444.7,448 446.8,445.9 449.9,445.4 452.5,447.4 456.1,450 459.2,446.4 461.3,445.9 463.9,446.4 467,448.7 470.2,449 473.8,448.7 475.9,447.7 478.5,449.5 482.1,450.8 485.3,454.2 487.9,463 491,464.6 493.9,467 497.2,464.3 500.3,467.4 502.9,461.5 505,461 508.5,456.3 512.3,459.7 514.4,459.1 517,457.3 519.2,458.9 522.3,457.8 525.4,456.8 528.5,461 530.6,460.1 533.2,454.7 535.3,453.2 538.4,454.7 542.6,455.2 545.2,458.7 548.3,455.2 550.9,454.5 553.3,454.7 555.6,457.1 558.7,457.1 561.3,455.8 569.1,455.6 572.2,457.3 576.9,453.7 579.5,454.9 583.7,453.7 587.8,452.9 593.6,451.4 597.8,450.4 601.4,448.3 604.6,450 607.2,450.4 609.8,451.6 612.4,450.8 615,449.8 618.6,449 621.2,450.4 624.3,451.9 628.5,451.4 631.6,450.8 635.3,452.1 637.9,451.6 641,449.7 646.2,447.7 649.3,447.4 653.5,449 657.6,447.7 661.8,449 665,449.2 668.1,448.4 671.8,447 681.6,447 684.8,444.4 688.1,441.1 694.6,441.1 697.8,443.2 701.4,444.1 703.3,445.4 705.4,447.7 707.7,447 710.8,446.7 713.1,446.3 716.5,447 720.1,449.1 722.7,448.6 725.9,444.9 730.5,443.4 733.7,444.6 737,445" fill="none" stroke="#2b41a0" stroke-width="1.05"/>
<g shape-rendering="crispEdges">
<rect x="14" y="435" width="2" height="43" fill="#fff"/>
<rect x="115" y="435" width="2" height="43" fill="#fff"/>
<rect x="214" y="435" width="2" height="43" fill="#fff"/>
<rect x="313" y="435" width="2" height="43" fill="#fff"/>
<rect x="413" y="435" width="2" height="43" fill="#fff"/>
<rect x="512" y="435" width="2" height="43" fill="#fff"/>
<rect x="613" y="435" width="2" height="43" fill="#fff"/>
<rect x="711" y="435" width="2" height="43" fill="#fff"/>
</g>
<text class="b" x="18.63" y="473" font-size="9.4" fill="#7d7d7d" textLength="23.93" lengthAdjust="spacingAndGlyphs">2004</text>
<text class="b" x="119.62" y="473" font-size="9.4" fill="#7d7d7d" textLength="24.18" lengthAdjust="spacingAndGlyphs">2005</text>
<text class="b" x="218.52" y="473" font-size="9.4" fill="#7d7d7d" textLength="24.27" lengthAdjust="spacingAndGlyphs">2006</text>
<text class="b" x="317.42" y="473" font-size="9.4" fill="#7d7d7d" textLength="24.36" lengthAdjust="spacingAndGlyphs">2007</text>
<text class="b" x="417.82" y="473" font-size="9.4" fill="#7d7d7d" textLength="24.21" lengthAdjust="spacingAndGlyphs">2008</text>
<text class="b" x="516.42" y="473" font-size="9.4" fill="#7d7d7d" textLength="24.28" lengthAdjust="spacingAndGlyphs">2009</text>
<text class="b" x="617.52" y="473" font-size="9.4" fill="#7d7d7d" textLength="24.33" lengthAdjust="spacingAndGlyphs">2010</text>
<text class="b" x="710.92" y="473" font-size="9.4" fill="#7d7d7d" textLength="24.18" lengthAdjust="spacingAndGlyphs">2011</text>
<rect x="4" y="479" width="744" height="2" fill="#b8b8b8"/>
<rect x="460.5" y="478.5" width="56" height="3" fill="#f4f4f4" stroke="#999"/>
<rect x="241" y="432" width="1" height="46" fill="#1a8fe0"/>
<rect x="737" y="432" width="1" height="46" fill="#1a8fe0"/>
<rect x="238.5" y="441.5" width="6" height="25" rx="1" fill="url(#hdl)" stroke="#999"/>
<path d="M242.7,451 L239.6,454 L242.7,457 Z" fill="#333"/>
<rect x="734.5" y="441.5" width="6" height="25" rx="1" fill="url(#hdl)" stroke="#999"/>
<path d="M736.3,451 L739.3,453.8 L736.3,456.6 Z" fill="#333"/>
</svg></body></html>
